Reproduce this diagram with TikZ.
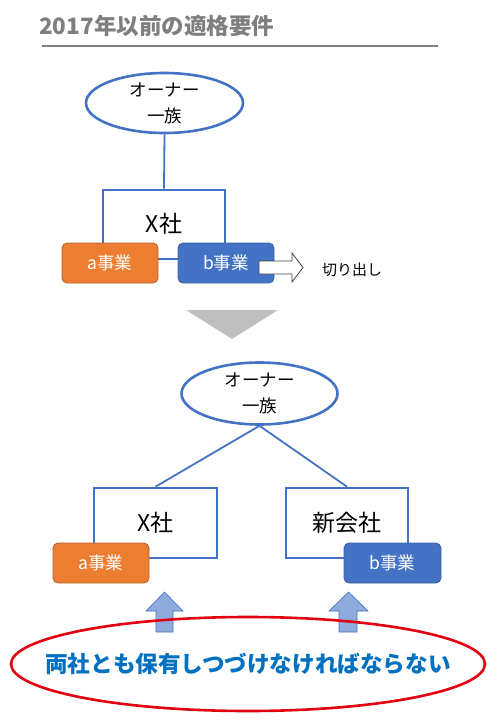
\documentclass[tikz,border=0pt]{standalone}
\usepackage{fontspec}
\setmainfont{Noto Sans CJK JP}
\usetikzlibrary{shapes.geometric}
\definecolor{mblue}{HTML}{4472C4}
\definecolor{mbluedark}{HTML}{3A62A8}
\definecolor{morange}{HTML}{ED7D31}
\definecolor{morangedark}{HTML}{B8612A}
\definecolor{lblue}{HTML}{8FAADC}
\definecolor{tgray}{HTML}{7F7F7F}
\definecolor{mred}{HTML}{E3000F}
\definecolor{tblue}{HTML}{0070C0}
\begin{document}
\begin{tikzpicture}[x=1pt,y=-1pt,
  titletext/.style={anchor=west,inner sep=0,text=tgray,font=\fontsize{22.5}{26}\selectfont\bfseries},
  owner/.style={ellipse,draw=mblue,line width=2.6pt,fill=white,minimum width=157,minimum height=60,inner sep=-8pt,align=center,font=\fontsize{17.5}{26}\selectfont},
  cobox/.style={rectangle,draw=mblue,line width=2.6pt,fill=white,minimum width=122,minimum height=69,inner sep=0,font=\fontsize{23}{26}\selectfont},
  bizbox/.style={rectangle,rounded corners=5pt,line width=0.8pt,minimum width=96,minimum height=40,inner sep=0,text=white,font=\fontsize{17.5}{20}\selectfont},
  abox/.style={bizbox,fill=morange,draw=morangedark},
  bbox/.style={bizbox,fill=mblue,draw=mbluedark},
  conn/.style={draw=mblue,line width=1.8pt},
  openarrow/.style={draw=black!75,fill=white,line width=0.8pt,line join=miter},
  uparrow/.style={draw=mblue,line width=0.6pt,fill=lblue},
  plaintext/.style={inner sep=0,font=\fontsize{15}{18}\selectfont},
  msgell/.style={ellipse,draw=mred,line width=2.6pt,minimum width=474,minimum height=94,inner xsep=-40pt,inner ysep=-10pt,text=tblue,font=\fontsize{22.6}{26}\selectfont\bfseries}
]
\useasboundingbox (0,0) rectangle (498,726);

% title
\node[titletext] (title) at (39,26) {2017年以前の適格要件};
\draw[draw=tgray,line width=2pt] (42,46) -- (438,46);

% upper part
\node[owner] (own1) at (164.5,103) {オーナー\\一族};
\node[cobox] (x1) at (164,224.5) {\raisebox{4pt}{X社}};
\draw[conn] (own1.south) -- (x1.north);
\node[abox] (a1) at (110,263) {a事業};
\node[bbox] (b1) at (226,263) {b事業};
\draw[openarrow] (259,261) -- (292,261) -- (292,253) -- (303,267.5) -- (292,282) -- (292,274) -- (259,274) -- cycle;
\node[plaintext,anchor=west] (cut) at (322,270) {切り出し};

% transition triangle
\path[fill=black!25] (186,310) -- (278,310) -- (232,339) -- cycle;

% lower part
\node[owner,minimum width=156,minimum height=62] (own2) at (259.5,393.5) {オーナー\\一族};
\node[cobox,minimum width=123,minimum height=70] (x2) at (155.5,523) {X社};
\node[cobox,minimum width=122,minimum height=70] (nc) at (347,523) {新会社};
\draw[conn] (own2.south) -- (x2.north);
\draw[conn] (own2.south) -- (nc.north);
\node[abox] (a2) at (101,563) {a事業};
\node[bbox,minimum width=97] (b2) at (392.5,563) {b事業};

% up arrows
\draw[uparrow] (164.5,592) -- (183,611) -- (173,611) -- (173,632) -- (156,632) -- (156,611) -- (146,611) -- cycle;
\draw[uparrow] (348.5,592) -- (368,611) -- (357,611) -- (357,632) -- (339,632) -- (339,611) -- (329,611) -- cycle;

% message
\node[msgell] (msg) at (248,664) {両社とも保有しつづけなければならない};
\end{tikzpicture}
\end{document}
